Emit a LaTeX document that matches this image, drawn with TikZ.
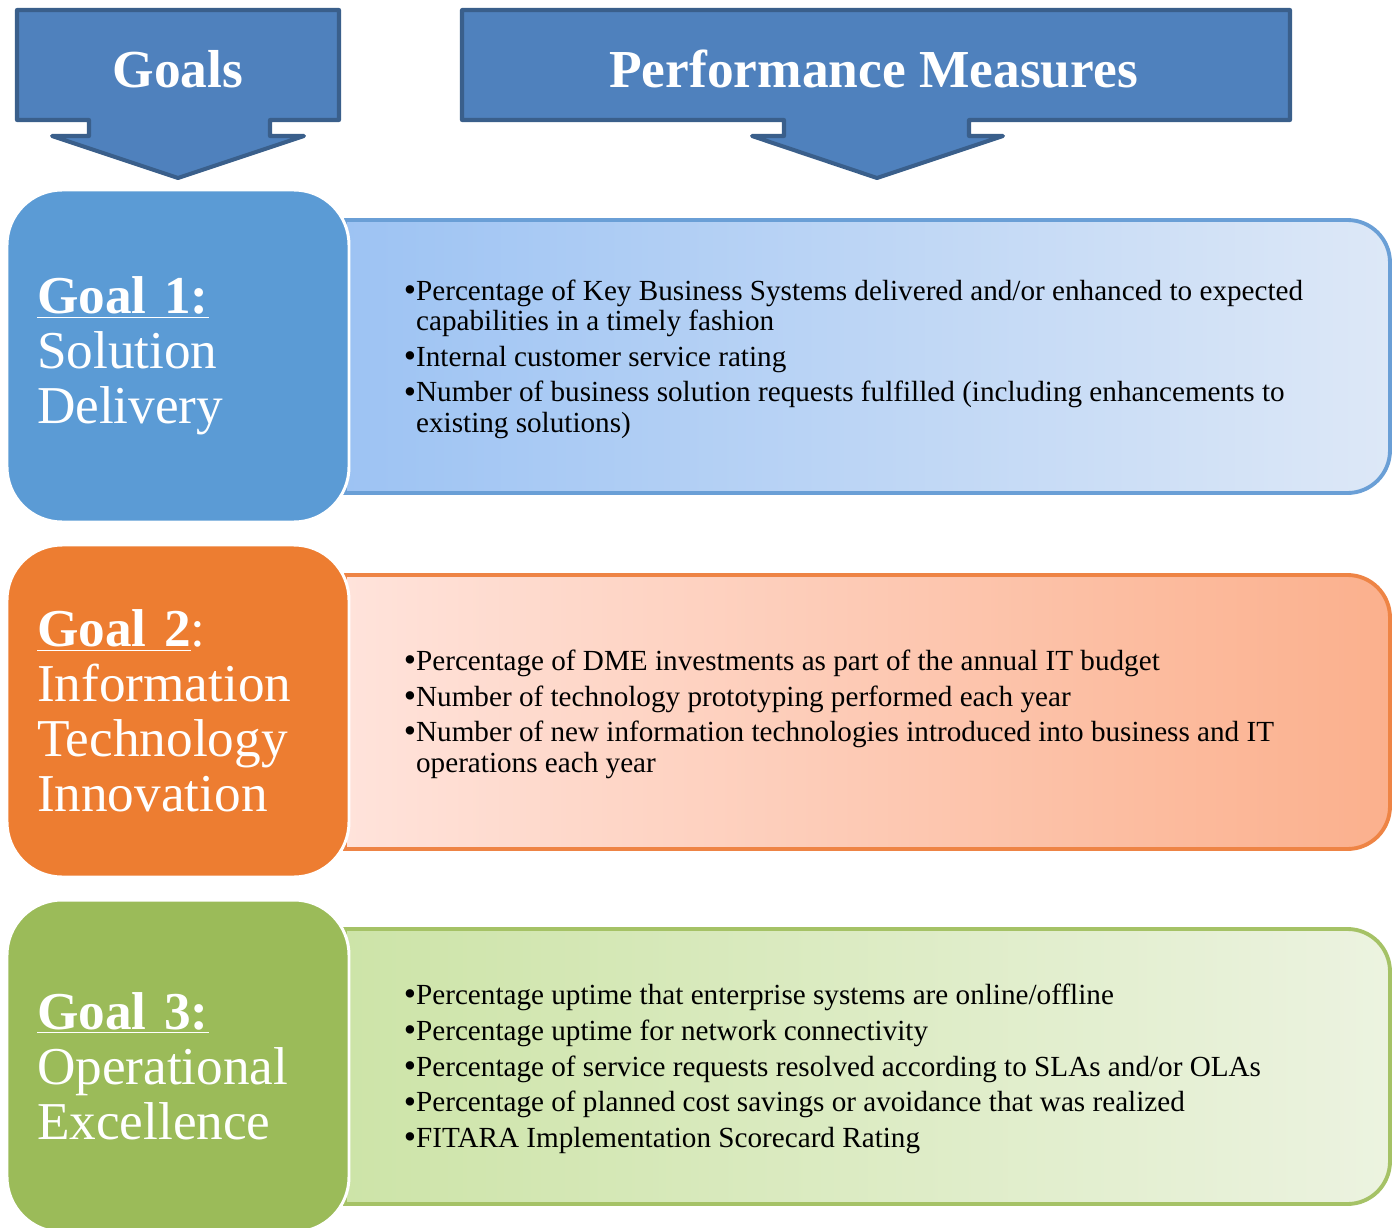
\documentclass[tikz,border=0pt]{standalone}
\usepackage{fontspec}
\setmainfont{Liberation Serif}
\usepackage{xcolor}
\usepackage{tikz}
\usetikzlibrary{positioning, calc}
\definecolor{hdrblue}{HTML}{4F81BD}
\definecolor{hdrline}{HTML}{3A5F8B}
\definecolor{goalblue}{HTML}{5B9BD5}
\definecolor{goalorange}{HTML}{ED7D31}
\definecolor{goalgreen}{HTML}{9BBB59}
\definecolor{lineblue}{HTML}{6A9FD6}
\definecolor{lineorange}{HTML}{EE8445}
\definecolor{linegreen}{HTML}{A5C266}
\definecolor{blueL}{HTML}{9DC3F3}
\definecolor{blueR}{HTML}{DDE8F7}
\definecolor{orangeL}{HTML}{FFE3DB}
\definecolor{orangeR}{HTML}{FBB08D}
\definecolor{greenL}{HTML}{CDE4A8}
\definecolor{greenR}{HTML}{ECF3E0}
\newcommand{\mbullet}{\raisebox{-0.6pt}{\fontsize{20}{17}\selectfont •}}
\tikzstyle{header} = [fill=hdrblue, draw=hdrline, line width=2.3pt, line join=round]
\tikzstyle{headertext} = [text=white, inner sep=0pt, font=\fontsize{30.4}{32}\selectfont\bfseries]
\tikzstyle{goalbox} = [draw=white, line width=1.7pt, rounded corners=1.1cm, minimum width=6.84cm, minimum height=6.64cm, text width=5.64cm, inner xsep=0.6cm, inner ysep=0pt, align=left, text=white, font=\fontsize{30.3}{31.2}\selectfont]
\tikzstyle{measurebox} = [line width=2.2pt]
\tikzstyle{measuretext} = [align=left, inner sep=0pt, yshift=-0.06cm, font=\fontsize{16.6}{17.2}\selectfont]

\begin{document}
\begin{tikzpicture}
    \useasboundingbox (0,0) rectangle (27.9,-24.56);

    % Header arrows
    \draw[header] (0.34,-0.2) -- (6.78,-0.2) -- (6.78,-2.4) -- (5.4,-2.4) -- (5.4,-2.72) -- (6.08,-2.72)
        -- (3.56,-3.56) -- (1.04,-2.72) -- (1.78,-2.72) -- (1.78,-2.4) -- (0.34,-2.4) -- cycle;
    \draw[header] (9.24,-0.2) -- (25.8,-0.2) -- (25.8,-2.4) -- (19.38,-2.4) -- (19.38,-2.72) -- (20.06,-2.72)
        -- (17.54,-3.56) -- (15.04,-2.72) -- (15.68,-2.72) -- (15.68,-2.4) -- (9.24,-2.4) -- cycle;
    \node[headertext] (goals) at (3.56,-1.38) {Goals};
    \node[headertext] (measures) at (17.47,-1.38) {Performance Measures};

    % Measure boxes
    \draw[measurebox, draw=lineblue, left color=blueL, right color=blueR] (6.9,-4.4) -- (26.95,-4.4)
        arc[start angle=90, end angle=0, radius=0.85] -- (27.8,-9.01)
        arc[start angle=0, end angle=-90, radius=0.85] -- (6.9,-9.86) -- cycle;
    \draw[measurebox, draw=lineorange, left color=orangeL, right color=orangeR] (6.9,-11.5) -- (26.95,-11.5)
        arc[start angle=90, end angle=0, radius=0.85] -- (27.8,-16.13)
        arc[start angle=0, end angle=-90, radius=0.85] -- (6.9,-16.98) -- cycle;
    \draw[measurebox, draw=linegreen, left color=greenL, right color=greenR] (6.9,-18.58) -- (26.95,-18.58)
        arc[start angle=90, end angle=0, radius=0.85] -- (27.8,-23.23)
        arc[start angle=0, end angle=-90, radius=0.85] -- (6.9,-24.08) -- cycle;

    % Goals
    \node[goalbox, fill=goalblue] (g1) at (3.56,-7.12) {\underline{\textbf{Goal 1:}}\\Solution\\Delivery};
    \node[goalbox, fill=goalorange] (g2) at (3.56,-14.22) {\underline{\textbf{Goal 2}}:\\Information\\Technology\\Innovation};
    \node[goalbox, fill=goalgreen] (g3) at (3.56,-21.32) {\underline{\textbf{Goal 3:}}\\Operational\\Excellence};

    % Measures
    \node[measuretext, right=1.06cm of g1] (m1) {\mbullet Percentage of Key Business Systems delivered and/or enhanced to expected\\
        \hphantom{\mbullet}capabilities in a timely fashion\\[3.2pt]
        \mbullet Internal customer service rating\\[3.2pt]
        \mbullet Number of business solution requests fulfilled (including enhancements to\\
        \hphantom{\mbullet}existing solutions)};
    \node[measuretext, right=1.06cm of g2] (m2) {\mbullet Percentage of DME investments as part of the annual IT budget\\[3.2pt]
        \mbullet Number of technology prototyping performed each year\\[3.2pt]
        \mbullet Number of new information technologies introduced into business and IT\\
        \hphantom{\mbullet}operations each year};
    \node[measuretext, right=1.06cm of g3] (m3) {\mbullet Percentage uptime that enterprise systems are online/offline\\[3.2pt]
        \mbullet Percentage uptime for network connectivity\\[3.2pt]
        \mbullet Percentage of service requests resolved according to SLAs and/or OLAs\\[3.2pt]
        \mbullet Percentage of planned cost savings or avoidance that was realized\\[3.2pt]
        \mbullet FITARA Implementation Scorecard Rating};
\end{tikzpicture}
\end{document}
